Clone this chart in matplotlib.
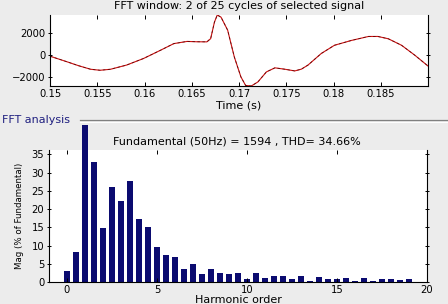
import matplotlib
matplotlib.use("Agg")
import matplotlib.pyplot as plt
from matplotlib.lines import Line2D

# ---- data: FFT window signal ----
time_s = [0.1500, 0.1518, 0.1530, 0.1543, 0.1553, 0.1564, 0.1581, 0.1599, 0.1617,
          0.1631, 0.1645, 0.1655, 0.1666, 0.1670, 0.1674, 0.1677, 0.1681, 0.1688,
          0.1695, 0.1702, 0.1707, 0.1713, 0.1720, 0.1729, 0.1738, 0.1748, 0.1759,
          0.1766, 0.1773, 0.1787, 0.1801, 0.1819, 0.1837, 0.1847, 0.1858, 0.1872,
          0.1886, 0.1900]
signal = [-90, -600, -950, -1280, -1370, -1280, -900, -300, 450,
          1050, 1250, 1220, 1210, 1500, 3000, 3650, 3450, 2270,
          -150, -1970, -2750, -2800, -2430, -1520, -1150, -1270, -1430,
          -1270, -900, 150, 900, 1340, 1700, 1700, 1490, 900,
          0, -985]

# ---- data: harmonic spectrum ----
harmonic_order = [0, 0.5, 1, 1.5, 2, 2.5, 3, 3.5, 4, 4.5, 5, 5.5, 6, 6.5, 7, 7.5,
                  8, 8.5, 9, 9.5, 10, 10.5, 11, 11.5, 12, 12.5, 13, 13.5, 14, 14.5,
                  15, 15.5, 16, 16.5, 17, 17.5, 18, 18.5, 19]
magnitude = [3.1, 8.1, 43.1, 33.0, 14.8, 26.1, 22.3, 27.8, 17.3, 15.1, 9.6, 7.5,
             6.8, 3.7, 5.0, 2.1, 3.7, 2.6, 2.1, 2.6, 0.9, 2.6, 1.2, 1.7, 1.7, 0.9,
             1.7, 0.4, 1.5, 0.9, 0.9, 1.2, 0.4, 1.2, 0.4, 0.9, 0.9, 0.6, 0.9]

top_xticks = [0.15, 0.155, 0.16, 0.165, 0.17, 0.175, 0.18, 0.185]
top_xticklabels = ["0.15", "0.155", "0.16", "0.165", "0.17", "0.175", "0.18", "0.185"]
top_yticks = [-2000, 0, 2000]
bot_xticks = [0, 5, 10, 15, 20]
bot_yticks = [0, 5, 10, 15, 20, 25, 30, 35]

BG = "#ececec"
FS = 7.2
FL = 8

fig = plt.figure(figsize=(4.48, 3.04), dpi=100, facecolor=BG)

def style_axes(ax):
    ax.set_facecolor("white")
    ax.spines["top"].set_visible(False)
    for s in ("left", "right", "bottom"):
        ax.spines[s].set_linewidth(0.8)
        ax.spines[s].set_color("black")
    ax.tick_params(axis="both", which="both", labelsize=FS, length=3, width=0.7,
                   direction="in", top=True, right=True, pad=2)
    ax.tick_params(axis="y", which="both", left=True, direction="inout")

# ---- top axes ----
ax1 = fig.add_axes([50/448, 1-86/304, 378/448, 71/304])
style_axes(ax1)
ax1.plot(time_s, signal, color="#d01010", lw=0.8)
ax1.plot(time_s, signal, color="#300000", lw=0.6, dashes=(3, 3), alpha=0.7)
ax1.set_xlim(0.15, 0.19)
ax1.set_ylim(min(signal), max(signal))
ax1.set_xticks(top_xticks)
ax1.set_xticklabels(top_xticklabels)
ax1.set_yticks(top_yticks)
ax1.set_title("FFT window: 2 of 25 cycles of selected signal", fontsize=FL, pad=4)
ax1.set_xlabel("Time (s)", fontsize=FL, labelpad=1)

# ---- panel ----
fig.text(2/448, 1-120/304, "FFT analysis", color="#202080", fontsize=FL,
         va="center", ha="left")
fig.add_artist(Line2D([80/448, 1], [1-120/304, 1-120/304], color="#808080",
                      lw=0.9, transform=fig.transFigure))
fig.add_artist(Line2D([80/448, 1], [1-121.5/304, 1-121.5/304], color="white",
                      lw=0.7, transform=fig.transFigure))

# ---- bottom axes ----
ax2 = fig.add_axes([49/448, 1-282/304, 378/448, 132/304])
style_axes(ax2)
bars = ax2.bar(harmonic_order, magnitude, width=0.3, color="#0b0b70",
               edgecolor="none")
for b in bars:
    b.set_clip_on(False)
ax2.set_xlim(-1, 20)
ax2.set_ylim(0, 36.2)
ax2.set_xticks(bot_xticks)
ax2.set_yticks(bot_yticks)
ax2.set_xlabel("Harmonic order", fontsize=FL, labelpad=0)
ax2.set_ylabel("Mag (% of Fundamental)", fontsize=6.2, labelpad=5)
fig.text(237/448, 1-142/304, "Fundamental (50Hz) = 1594 , THD= 34.66%",
         fontsize=FL, ha="center", va="center")

fig.savefig("out.png", dpi=100, facecolor=BG)
